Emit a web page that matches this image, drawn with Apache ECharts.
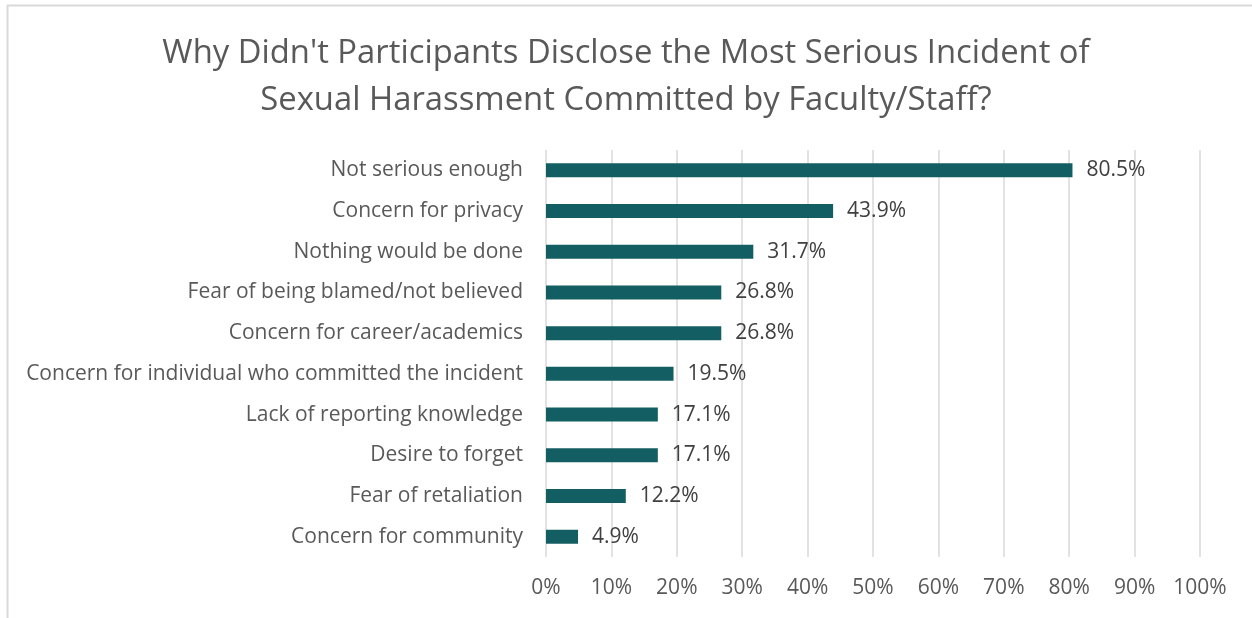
<!DOCTYPE html>
<html>
<head>
<meta charset="utf-8">
<script src="https://cdn.jsdelivr.net/npm/echarts@6/dist/echarts.min.js"></script>
<style>
  html, body { margin: 0; padding: 0; background: #fff; }
  #chart { width: 1252px; height: 618px; }
</style>
</head>
<body>
<div id="chart"></div>
<script>
// reasons for not disclosing (top to bottom)
const categories = [
  'Not serious enough',
  'Concern for privacy',
  'Nothing would be done',
  'Fear of being blamed/not believed',
  'Concern for career/academics',
  'Concern for individual who committed the incident',
  'Lack of reporting knowledge',
  'Desire to forget',
  'Fear of retaliation',
  'Concern for community'
];
const percents = [80.5, 43.9, 31.7, 26.8, 26.8, 19.5, 17.1, 17.1, 12.2, 4.9];
const titleLines = [
  "Why Didn't Participants Disclose the Most Serious Incident of",
  'Sexual Harassment Committed by Faculty/Staff?'
];

const font = 'Open Sans';
let chart = echarts.init(document.getElementById('chart'));

let option = {
  backgroundColor: '#fff',
  animation: false,
  title: {
    text: titleLines.join('\n'),
    left: 'center',
    top: 25,
    textStyle: {
      fontFamily: font,
      fontSize: 32.8,
      fontWeight: 'normal',
      color: '#595959',
      lineHeight: 47
    }
  },
  graphic: [
    // chart border (top and left edges visible)
    { type: 'line', shape: { x1: 7, y1: 5.5, x2: 1252, y2: 5.5 }, style: { stroke: '#d9d9d9', lineWidth: 2 } },
    { type: 'line', shape: { x1: 7.5, y1: 5, x2: 7.5, y2: 618 }, style: { stroke: '#d9d9d9', lineWidth: 2 } }
  ],
  grid: { left: 546, right: 52, top: 150, height: 407, containLabel: false },
  xAxis: {
    type: 'value',
    min: 0,
    max: 100,
    interval: 10,
    axisLine: { show: false },
    axisTick: { show: false },
    splitLine: { lineStyle: { color: '#d9d9d9', width: 1.5 } },
    axisLabel: {
      formatter: '{value}%',
      fontFamily: font,
      fontSize: 21,
      color: '#595959',
      margin: 21
    }
  },
  yAxis: {
    type: 'category',
    data: categories,
    inverse: true,
    axisLine: { show: false },
    axisTick: { show: false },
    axisLabel: {
      fontFamily: font,
      fontSize: 21,
      color: '#595959',
      margin: 23,
      padding: [4, 0, 0, 0]
    }
  },
  series: [{
    type: 'bar',
    data: percents,
    barWidth: 14,
    itemStyle: { color: '#135e63' },
    label: {
      show: true,
      position: 'right',
      distance: 14,
      padding: [5, 0, 0, 0],
      formatter: p => p.value.toFixed(1) + '%',
      fontFamily: font,
      fontSize: 21,
      color: '#404040'
    }
  }]
};

chart.setOption(option);
</script>
</body>
</html>
